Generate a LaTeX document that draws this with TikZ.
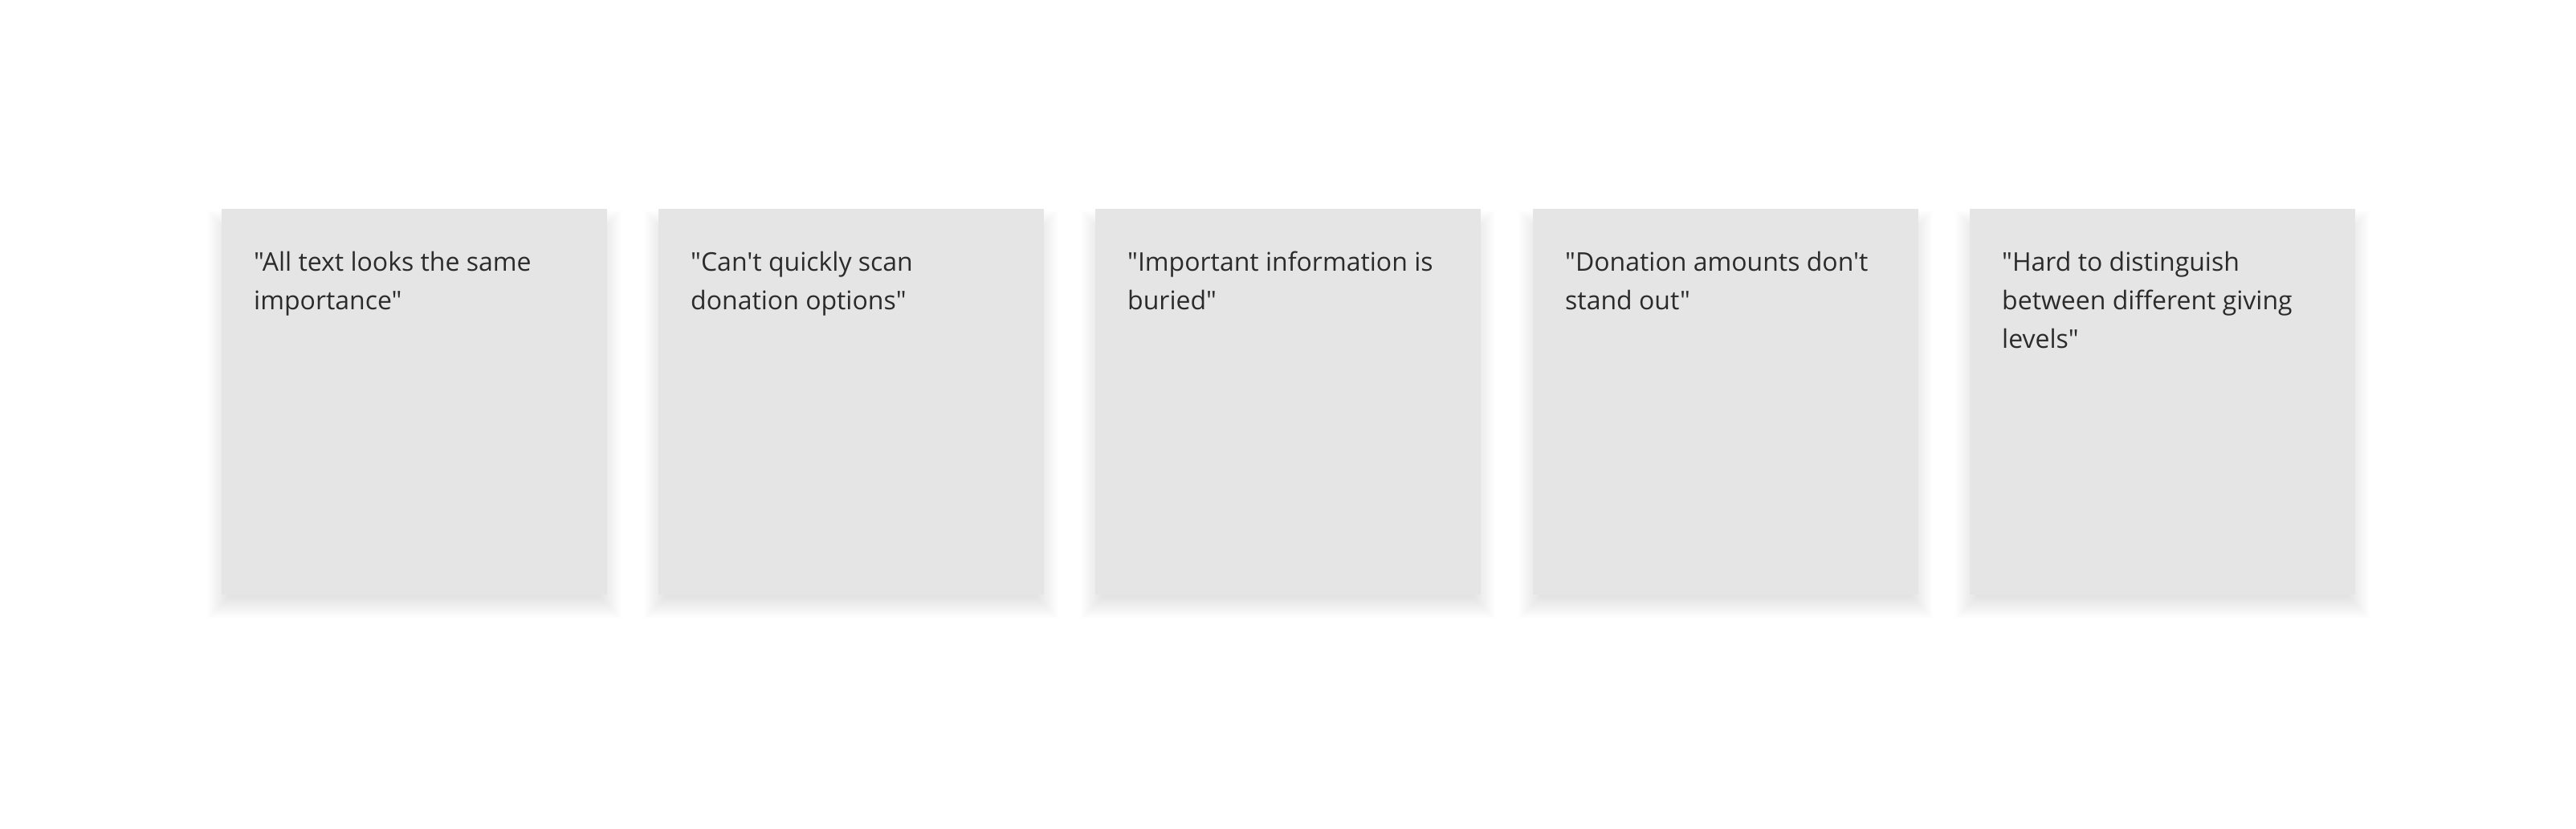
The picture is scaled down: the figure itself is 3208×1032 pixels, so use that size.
\documentclass[tikz,border=0pt]{standalone}
\usepackage{fontspec}
\newfontfamily\cardfont{Open Sans}
\pgfdeclarelayer{paper}
\pgfdeclarelayer{shade}
\pgfsetlayers{paper,shade,main}
\definecolor{cardfill}{HTML}{E5E5E5}
\definecolor{cardtext}{HTML}{2B2B2B}
\tikzset{
  card/.style={rectangle, fill=cardfill, draw=none, minimum width=480pt, minimum height=480pt,
    anchor=north west, inner sep=0pt},
  cardlabel/.style={anchor=north west, inner sep=0pt, align=left, text=cardtext,
    font=\cardfont\fontsize{32}{48}\selectfont},
  shadowlayer/.style={fill=black, fill opacity=0.0026, draw=none}
}
\newcommand{\firstline}{\rule{0pt}{32pt}}
\begin{document}
\begin{tikzpicture}[x=1pt,y=-1pt]
\begin{pgfonlayer}{paper}
\fill[white] (0,0) rectangle (3208,1032);
\end{pgfonlayer}
\useasboundingbox (0,0) rectangle (3208,1032);
\node[card] (c1) at (276,260) {};
\node[card] (c2) at (820,260) {};
\node[card] (c3) at (1364,260) {};
\node[card] (c4) at (1909,260) {};
\node[card] (c5) at (2453,260) {};
\begin{pgfonlayer}{shade}
\foreach \c in {c1,c2,c3,c4,c5}{
  \foreach \k in {1,...,28}{
    \fill[shadowlayer] ([xshift=-\k pt+10pt, yshift=\k pt-30pt]\c.north west) rectangle ([xshift=\k pt-10pt, yshift=-\k pt-2pt]\c.south east);
  }
}
\end{pgfonlayer}
\node[cardlabel] (t1) at ([xshift=40pt,yshift=-45pt]c1.north west) {\firstline"All text looks the same\\importance"};
\node[cardlabel] (t2) at ([xshift=40pt,yshift=-45pt]c2.north west) {\firstline"Can't quickly scan\\donation options"};
\node[cardlabel] (t3) at ([xshift=40pt,yshift=-45pt]c3.north west) {\firstline"Important information is\\buried"};
\node[cardlabel] (t4) at ([xshift=40pt,yshift=-45pt]c4.north west) {\firstline"Donation amounts don't\\stand out"};
\node[cardlabel] (t5) at ([xshift=40pt,yshift=-45pt]c5.north west) {\firstline"Hard to distinguish\\between different giving\\levels"};
\end{tikzpicture}
\end{document}
